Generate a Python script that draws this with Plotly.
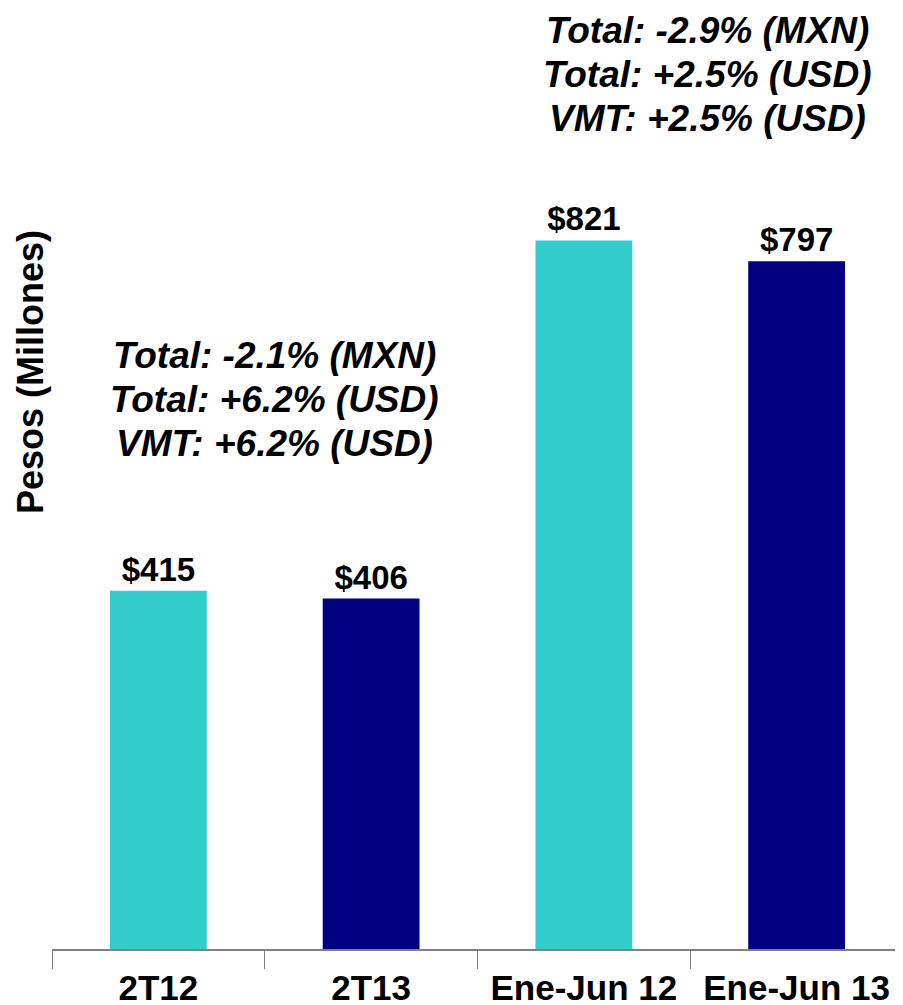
import plotly.graph_objects as go

categories = ["2T12", "2T13", "Ene-Jun 12", "Ene-Jun 13"]
values = [415, 406, 821, 797]
bar_colors = ["#33CCCC", "#000080", "#33CCCC", "#000080"]
note_left = ["Total: -2.1% (MXN)", "Total: +6.2% (USD)", "VMT: +6.2% (USD)"]
note_right = ["Total: -2.9% (MXN)", "Total: +2.5% (USD)", "VMT: +2.5% (USD)"]
y_title = "Pesos (Millones)"

FONT = "Liberation Sans, Arial, sans-serif"

fig = go.Figure()
fig.add_trace(go.Bar(
    x=categories,
    y=values,
    marker=dict(color=bar_colors, line=dict(width=0)),
    width=0.455,
    text=[f"${v}" for v in values],
    textposition="outside",
    textfont=dict(family=FONT, size=33, color="black", weight="bold"),
    cliponaxis=False,
))

# page body has an 8px default margin; figure is sized so it fills the window
OFF = 8
W, H = 903 - OFF, 1005 - OFF
ml, mr, mt, mb = 52 - OFF, 0, 2, 56
pw = W - ml - mr
ph = H - mt - mb

def px_to_paper(x, y):
    # x, y are window pixel positions
    x -= OFF
    y -= OFF
    return (x - ml) / pw, (H - mb - y) / ph

annotations = []
for i, s in enumerate(note_left):
    x, y = px_to_paper(274, 355 + i * 44)
    annotations.append(dict(x=x, y=y, xref="paper", yref="paper", xanchor="center", yanchor="middle",
                            text=f"<b><i>{s}</i></b>", showarrow=False,
                            font=dict(family=FONT, size=37, color="black")))
for i, s in enumerate(note_right):
    x, y = px_to_paper(707, 31 + i * 44)
    annotations.append(dict(x=x, y=y, xref="paper", yref="paper", xanchor="center", yanchor="middle",
                            text=f"<b><i>{s}</i></b>", showarrow=False,
                            font=dict(family=FONT, size=37, color="black")))
tx, ty = px_to_paper(30, 372)
annotations.append(dict(x=tx, y=ty, xref="paper", yref="paper", xanchor="center", yanchor="middle",
                        text=f"<b>{y_title}</b>", textangle=-90, showarrow=False,
                        font=dict(family=FONT, size=36, color="black")))

fig.update_layout(
    width=W, height=H,
    margin=dict(l=ml, r=mr, t=mt, b=mb, pad=0, autoexpand=False),
    paper_bgcolor="white", plot_bgcolor="white",
    showlegend=False,
    annotations=annotations,
    xaxis=dict(
        type="category", automargin=False,
        showline=True, linecolor="#808080", linewidth=2,
        ticks="outside", tickson="boundaries", ticklen=18, tickcolor="#808080", tickwidth=1,
        ticklabelstandoff=7,
        tickfont=dict(family=FONT, size=35, color="black", weight="bold"),
        showgrid=False, zeroline=False,
        range=[-0.5, 3.5],
    ),
    yaxis=dict(
        range=[0, ph / 0.863], automargin=False,
        visible=False, showgrid=False, zeroline=False,
    ),
)

fig.write_html("out.html")
